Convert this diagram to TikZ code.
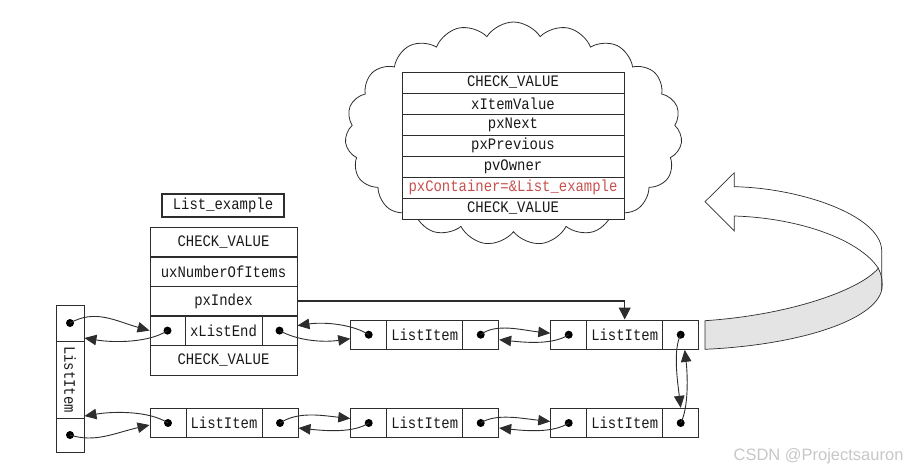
\documentclass[tikz,border=0pt]{standalone}
\usepackage{fontspec}
\usetikzlibrary{arrows.meta,shapes.symbols}
\newfontfamily\monof{Liberation Mono}[FakeStretch=0.87]
\newfontfamily\wmfont{Liberation Sans}
\definecolor{linec}{RGB}{45,45,45}
\definecolor{redt}{RGB}{200,80,77}
\definecolor{bandc}{RGB}{228,228,228}
\tikzset{
  cell/.style={draw=linec, line width=0.9pt, inner sep=0pt, minimum height=29.5pt,
    font=\monof\fontsize{16}{18}\selectfont, text=black!90},
  crow/.style={cell, minimum width=222pt, minimum height=21pt, fill=white},
  dotn/.style={circle, fill=black, inner sep=0pt, minimum size=8pt},
  conn/.style={draw=linec, line width=0.9pt, -{Triangle[length=12pt,width=10.5pt]}},
  bigconn/.style={draw=linec, line width=1.1pt, -{Triangle[length=12pt,width=12pt]}},
  thick line/.style={draw=linec, line width=2pt},
}
\newcommand\litem[4]{%
  \node[cell, minimum width=36pt] (#1l) at ({#2+18},#3) {};
  \node[cell, minimum width=76pt] (#1m) at ({#2+74},#3) {#4};
  \node[cell, minimum width=36pt] (#1r) at ({#2+130},#3) {};
  \node[dotn] (#1ld) at (#1l.center) {};
  \node[dotn] (#1rd) at (#1r.center) {};
}
\begin{document}
\begin{tikzpicture}[x=1pt, y=-1pt]
\useasboundingbox (0,0) rectangle (912,471);

% cloud with item structure
\node[cloud, draw=linec, line width=0.8pt, cloud puffs=19, cloud puff arc=115,
      cloud ignores aspect, minimum width=337pt, minimum height=223pt] (cloud) at (513.5,133.5) {};
\node[crow] (c1) at (513,82.5) {CHECK\_VALUE};
\node[crow] (c2) at (513,103.5) {xItemValue};
\node[crow] (c3) at (513,124.5) {pxNext};
\node[crow] (c4) at (513,145.5) {pxPrevious};
\node[crow] (c5) at (513,166.5) {pvOwner};
\node[crow, text=redt] (c6) at (513,187.5) {pxContainer=\&List\_example};
\node[crow] (c7) at (513,208.5) {CHECK\_VALUE};

% List_example
\node[cell, line width=1.8pt, minimum width=122pt, minimum height=23pt] (title) at (223,205.5) {List\_example};
\node[cell, minimum width=147pt, minimum height=29.6pt] (cv1) at (223.5,241.8) {CHECK\_VALUE};
\node[cell, minimum width=147pt, minimum height=29.6pt] (ux) at (223.5,271.4) {uxNumberOfItems};
\node[cell, minimum width=147pt, minimum height=29.6pt] (px) at (223.5,301) {pxIndex};
\node[cell, minimum width=35pt, minimum height=29.6pt] (xl) at (167.5,330.6) {};
\node[cell, minimum width=77pt, minimum height=29.6pt] (xm) at (223.5,330.6) {xListEnd};
\node[cell, minimum width=35pt, minimum height=29.6pt] (xr) at (279.5,330.6) {};
\node[cell, minimum width=147pt, minimum height=29.6pt] (cv2) at (223.5,360.2) {CHECK\_VALUE};
\node[dotn] (xld) at (xl.center) {};
\node[dotn] (xrd) at (xr.center) {};
\draw[thick line] (cv1.south west) -- (cv1.south east);
\draw[thick line] (px.south west) -- (px.south east);

% vertical ListItem
\node[cell, minimum width=28pt, minimum height=36pt] (vt) at (70,323) {};
\node[cell, minimum width=28pt, minimum height=77pt] (vm) at (70,379.5) {};
\node[font=\monof\fontsize{16}{18}\selectfont, text=black!90, rotate=-90] (vtext) at (vm.center) {ListItem};
\node[cell, minimum width=28pt, minimum height=34pt] (vb) at (70,435) {};
\node[dotn] (vtd) at (vt.center) {};
\node[dotn] (vbd) at (vb.center) {};

% list items
\litem{a}{350.7}{334.7}{ListItem}
\litem{b}{550.7}{334.7}{ListItem}
\litem{c}{150}{423}{ListItem}
\litem{d}{350.7}{423}{ListItem}
\litem{e}{550.7}{423}{ListItem}

% pxIndex pointer
\draw[bigconn] (px.east) -| (bm.north);

% links
\draw[conn] (vtd.center) .. controls +(25,-14) and +(-35,-10) .. (xl.west);
\draw[conn] (xld.center) .. controls +(-18,12) and +(30,5) .. ([yshift=-15pt]vt.east);
\draw[conn] (xrd.center) .. controls +(18,10) and +(-28,4) .. ([yshift=-4pt]al.west);
\draw[conn] (ald.center) .. controls +(-15,-10) and +(28,-4) .. ([yshift=5pt]xr.east);
\draw[conn] (ard.center) .. controls +(15,-12) and +(-28,-3) .. ([yshift=1.5pt]bl.west);
\draw[conn] (bld.center) .. controls +(-15,10) and +(28,3) .. ([yshift=-5pt]ar.east);
\draw[conn] (brd.center) .. controls +(-8,15) and +(-3,-25) .. (er.north);
\draw[conn] (erd.center) .. controls +(8,-15) and +(3,25) .. ([xshift=4pt]br.south);
\draw[conn] (vbd.center) .. controls +(25,8) and +(-35,8) .. ([yshift=-2pt]cl.west);
\draw[conn] (cld.center) .. controls +(-18,-12) and +(30,-5) .. ([yshift=1.5pt]vb.north east);
\draw[conn] (crd.center) .. controls +(18,-12) and +(-28,-3) .. ([yshift=4.5pt]dl.west);
\draw[conn] (dld.center) .. controls +(-15,10) and +(28,3) .. ([yshift=-5pt]cr.east);
\draw[conn] (drd.center) .. controls +(15,-10) and +(-28,-3) .. ([yshift=1.5pt]el.west);
\draw[conn] (eld.center) .. controls +(-15,10) and +(28,3) .. ([yshift=-5pt]dr.east);

% curved block arrow
\filldraw[fill=bandc, draw=linec, line width=0.7pt]
  (705,320.7) .. controls (790,315) and (860,290) .. (878.3,268.3)
  .. controls (882,275) and (883,283) .. (881.7,290)
  .. controls (875,320) and (800,345) .. (705,349.3) -- cycle;
\draw[draw=linec, line width=0.7pt]
  (881.7,290) -- (881.7,250) .. controls (880,215) and (800,188) .. (734.3,186.7)
  -- (734.3,172.7) -- (705,201.7) -- (734.3,231) -- (734.3,216)
  .. controls (800,218) and (860,240) .. (878.3,268.3);

% watermark
\node[font=\wmfont\fontsize{16.5}{18}\selectfont, text=black!22, anchor=east] (wm) at (907,456.5) {CSDN @Projectsauron};
\end{tikzpicture}
\end{document}
